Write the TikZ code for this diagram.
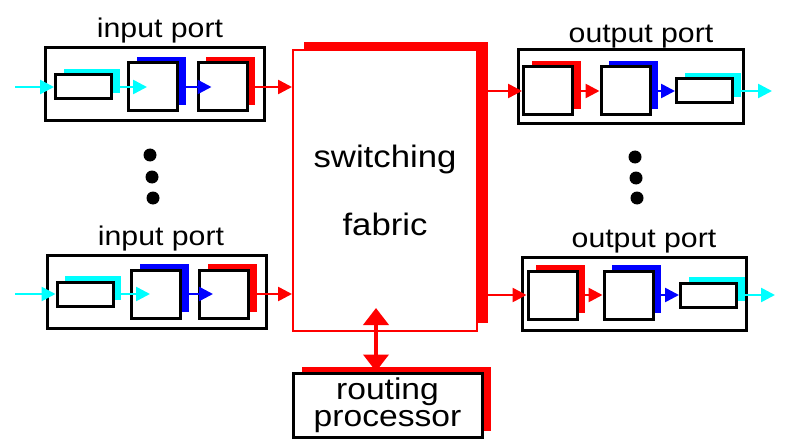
\documentclass[tikz,border=0pt]{standalone}
\usepackage{fontspec}
\setmainfont{Liberation Sans}[FakeStretch=1.12]
\usepackage{tikz}
\usetikzlibrary{arrows.meta,shadows,positioning,calc}
\definecolor{aqua}{RGB}{0,255,255}
\definecolor{pureblue}{RGB}{0,0,255}
\definecolor{purered}{RGB}{255,0,0}

\begin{document}
\begin{tikzpicture}[x=1pt, y=-1pt,
  port/.style={rectangle, draw, line width=3pt, minimum width=219pt, minimum height=73pt, inner sep=0pt},
  buf/.style={rectangle, draw, fill=white, line width=3pt, minimum width=56pt, minimum height=24pt, inner sep=0pt},
  sq/.style={rectangle, draw, fill=white, line width=3pt, minimum width=49pt, minimum height=48pt, inner sep=0pt},
  shad/.style={general shadow={fill=#1, shadow xshift=8pt, shadow yshift=6pt}},
  portlabel/.style={font=\fontsize{27}{32}\selectfont, anchor=base, inner sep=0pt},
  fabric/.style={rectangle, draw=purered, line width=2pt, fill=white, minimum width=184pt, minimum height=281pt, align=center, font=\fontsize{31}{68}\selectfont, general shadow={fill=purered, shadow xshift=11pt, shadow yshift=8pt}},
  rproc/.style={rectangle, draw, line width=3pt, fill=white, minimum width=189pt, minimum height=64pt, inner sep=1pt, align=center, font=\fontsize{30}{27}\selectfont, general shadow={fill=purered, shadow xshift=9pt, shadow yshift=6pt}},
  dot/.style={circle, fill, minimum size=13pt, inner sep=0pt},
  arr/.style={-{Triangle[length=14pt,width=14pt]}, line width=2.6pt},
  carr/.style={arr, aqua},
  barr/.style={arr, pureblue},
  rarr/.style={arr, purered},
  dbl/.style={{Triangle[length=17pt,width=25pt]}-{Triangle[length=17pt,width=25pt]}, line width=4pt, purered}
]
\useasboundingbox (0,0) rectangle (787,441);

% switching fabric and routing processor
\node[fabric] (fab) at (385,190.5) {switching\\fabric};
\node[rproc] (rp) at (387.5,405) {routing\\processor};

% input ports
\node[portlabel] (labInA) at (160,38) {input port};
\node[port] (inA) at (154.5,84.5) {};
\node[buf, shad=aqua] (bufA) at (83.5,87) {};
\node[sq, shad=pureblue] (qA1) at (153,87) {};
\node[sq, shad=purered] (qA2) at (222.5,87) {};

\node[portlabel] (labInB) at (161,245) {input port};
\node[port] (inB) at (156.5,291.5) {};
\node[buf, shad=aqua] (bufB) at (85,294) {};
\node[sq, shad=pureblue] (qB1) at (156,294) {};
\node[sq, shad=purered] (qB2) at (224,294) {};

% output ports
\node[portlabel] (labOutA) at (641,43) {output port};
\node[port, minimum width=225pt, minimum height=74pt] (outA) at (630.5,87) {};
\node[sq, shad=purered] (oqA1) at (548,91) {};
\node[sq, shad=pureblue] (oqA2) at (625.5,91) {};
\node[buf, shad=aqua] (obufA) at (704.5,91) {};

\node[portlabel] (labOutB) at (644,247) {output port};
\node[port, minimum width=224pt] (outB) at (634,293.5) {};
\node[sq, shad=purered] (oqB1) at (552.5,295) {};
\node[sq, shad=pureblue] (oqB2) at (628.5,295) {};
\node[buf, shad=aqua] (obufB) at (708.5,295) {};

% dots
\node[dot] (dotL1) at (150,155) {};
\node[dot] (dotL2) at (152,177) {};
\node[dot] (dotL3) at (153,198) {};
\node[dot] (dotR1) at (635,157) {};
\node[dot] (dotR2) at (636,178) {};
\node[dot] (dotR3) at (637,198) {};

% arrows, inputs
\coordinate (srcA) at (15,87);
\coordinate (srcB) at (15,294);
\draw[carr] (srcA) -- (bufA);
\draw[carr, shorten >=-20pt] (bufA) -- (qA1);
\draw[barr, shorten >=-15pt] (qA1) -- (qA2);
\draw[rarr] (qA2) -- (qA2 -| fab.west);
\draw[carr] (srcB) -- (bufB);
\draw[carr, shorten >=-20pt] (bufB) -- (qB1);
\draw[barr, shorten >=-15pt] (qB1) -- (qB2);
\draw[rarr] (qB2) -- (qB2 -| fab.west);

% arrows, outputs
\coordinate (dstA) at (772,91);
\coordinate (dstB) at (775,295);
\draw[rarr] (fab.east |- oqA1) -- (oqA1);
\draw[rarr] (oqA1) -- (oqA2);
\draw[barr] (oqA2) -- (obufA);
\draw[carr] (obufA) -- (dstA);
\draw[rarr] (fab.east |- oqB1) -- (oqB1);
\draw[rarr] (oqB1) -- (oqB2);
\draw[barr] (oqB2) -- (obufB);
\draw[carr] (obufB) -- (dstB);

% fabric <-> routing processor
\coordinate (bus) at (376,308);
\draw[dbl] (bus) -- (bus |- rp.north);
\end{tikzpicture}
\end{document}
